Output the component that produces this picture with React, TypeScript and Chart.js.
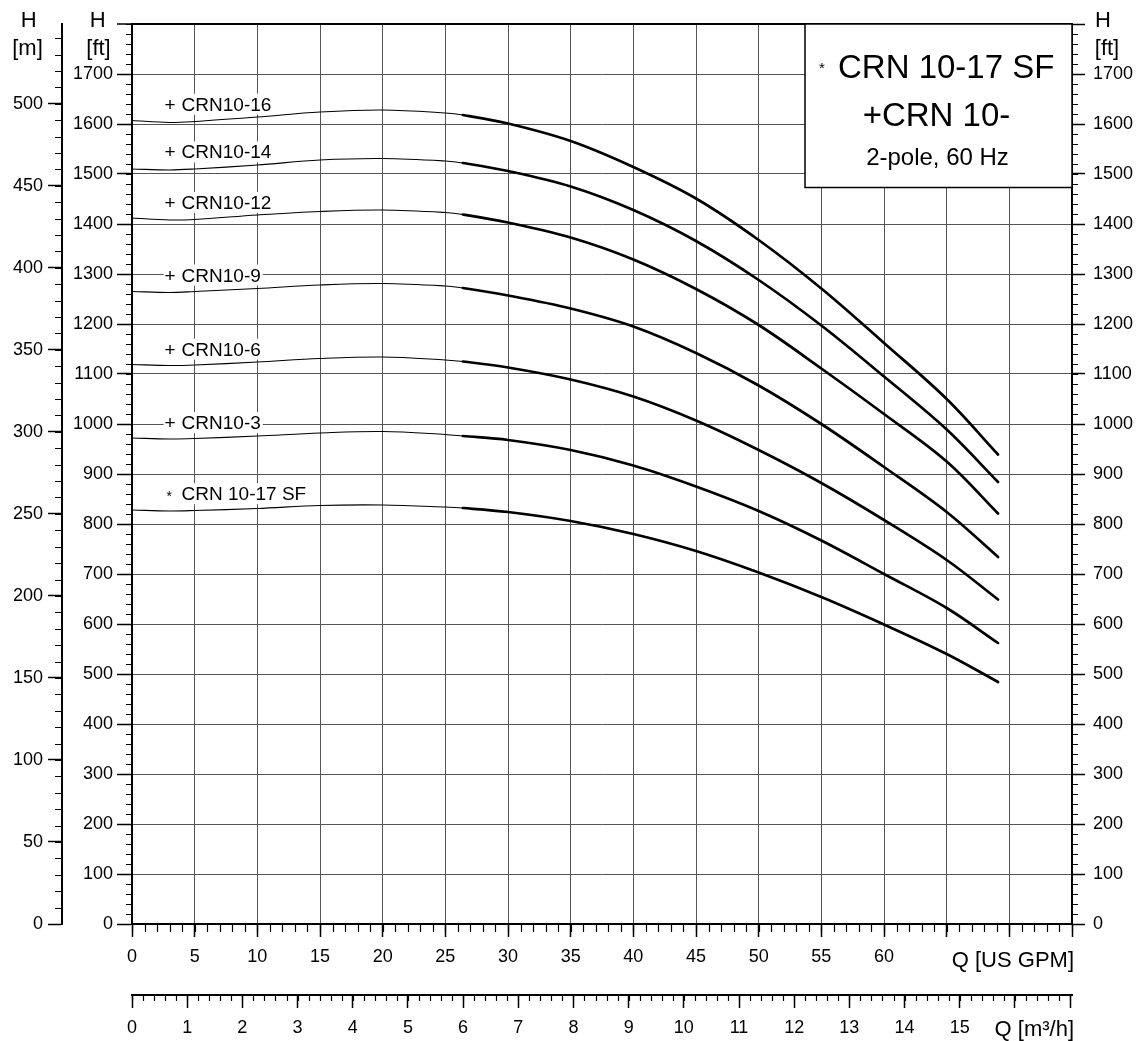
import { useEffect, useRef } from 'react';
import { Chart, registerables } from 'chart.js';

Chart.register(...registerables);

const FONT = "'Liberation Sans', Arial, Helvetica, sans-serif";
const FT_PER_M = 3.28084;
const GPM_PER_M3H = 4.402868;

// ---- data ----
const flowGpm = [0, 3, 5, 10, 15, 20, 25, 26.4, 30, 35, 40, 45, 50, 55, 60, 65, 69.1];
const headCrn10_16 = [1607, 1603, 1605, 1614, 1624, 1628, 1622, 1618, 1601, 1566, 1514, 1451, 1368, 1271, 1162, 1050, 939];
const headCrn10_14 = [1510, 1508, 1510, 1518, 1528, 1531, 1526, 1522, 1506, 1475, 1428, 1366, 1288, 1197, 1095, 989, 884];
const headCrn10_12 = [1412, 1408, 1409, 1418, 1425, 1428, 1423, 1419, 1403, 1373, 1329, 1270, 1198, 1111, 1020, 925, 821];
const headCrn10_9 = [1265, 1263, 1265, 1271, 1278, 1281, 1276, 1272, 1257, 1231, 1195, 1142, 1077, 1000, 914, 824, 734];
const headCrn10_6 = [1119, 1117, 1118, 1124, 1131, 1134, 1128, 1125, 1113, 1089, 1055, 1007, 948, 882, 808, 728, 649];
const headCrn10_3 = [972, 970, 971, 976, 982, 985, 979, 976, 968, 948, 917, 875, 826, 767, 700, 632, 562];
const headCrn10_17SF = [828, 826, 827, 831, 837, 838, 834, 832, 824, 806, 780, 746, 703, 654, 599, 540, 484];

const curveNames = ['CRN10-16', 'CRN10-14', 'CRN10-12', 'CRN10-9', 'CRN10-6', 'CRN10-3', 'CRN 10-17 SF'];
const curveMarkers = ['+', '+', '+', '+', '+', '+', '*'];
const curveHeads = [headCrn10_16, headCrn10_14, headCrn10_12, headCrn10_9, headCrn10_6, headCrn10_3, headCrn10_17SF];
const labelBaselineFt = [1626.6, 1531.2, 1430.3, 1285.0, 1136.8, 989.8, 847.6];
const labelFlowGpm = 2.6;
const thickFromGpm = 26.4;

const gpmTickLabels = [0, 5, 10, 15, 20, 25, 30, 35, 40, 45, 50, 55, 60];
const m3hTickLabels = [0, 1, 2, 3, 4, 5, 6, 7, 8, 9, 10, 11, 12, 13, 14, 15];
const ftTickLabels = [0, 100, 200, 300, 400, 500, 600, 700, 800, 900, 1000, 1100, 1200, 1300, 1400, 1500, 1600, 1700];
const mTickLabels = [0, 50, 100, 150, 200, 250, 300, 350, 400, 450, 500];

const legendLines = ['CRN 10-17 SF', '+CRN 10-', '2-pole, 60 Hz'];

const labelFrom = (list: number[]) => (v: any) => {
  const n = Number(v);
  const r = Math.round(n);
  return Math.abs(n - r) < 1e-3 && list.includes(r) ? String(r) : '';
};

const minorTicksPlugin = {
  id: 'minorTicks',
  afterDraw(chart: any) {
    const ctx = chart.ctx;
    const specs = [
      { id: 'x', step: 1, len: 8 },
      { id: 'x2', step: 0.2, len: 6 },
      { id: 'y', step: 20, len: 6 },
      { id: 'ym', step: 10, len: 7 },
      { id: 'yr', step: 20, len: 6 },
    ];
    ctx.save();
    ctx.strokeStyle = '#000';
    ctx.lineWidth = 1.2;
    for (const s of specs) {
      const sc = chart.scales[s.id];
      const n = Math.floor((sc.max - sc.min) / s.step + 1e-6);
      ctx.beginPath();
      for (let i = 0; i <= n; i++) {
        const v = sc.min + i * s.step;
        const p = Math.round(sc.getPixelForValue(v)) + 0.5;
        if (s.id === 'x' || s.id === 'x2') {
          ctx.moveTo(p, sc.top);
          ctx.lineTo(p, sc.top + s.len);
        } else if (s.id === 'yr') {
          ctx.moveTo(sc.left, p);
          ctx.lineTo(sc.left + s.len, p);
        } else {
          ctx.moveTo(sc.right, p);
          ctx.lineTo(sc.right - s.len, p);
        }
      }
      ctx.stroke();
    }
    ctx.restore();
  },
};

const textPlugin = {
  id: 'texts',
  afterDraw(chart: any) {
    const ctx = chart.ctx;
    const area = chart.chartArea;
    const sx = chart.scales.x;
    const sy = chart.scales.y;
    const ym = chart.scales.ym;
    const yr = chart.scales.yr;
    ctx.save();
    ctx.fillStyle = '#000';
    ctx.textBaseline = 'alphabetic';

    // axis unit titles
    ctx.font = `22px ${FONT}`;
    ctx.textAlign = 'center';
    ctx.fillText('H', ym.left + 28.7, 26.7);
    ctx.fillText('[m]', ym.left + 27.5, 55);
    ctx.fillText('H', sy.left + 35.7, 26.7);
    ctx.fillText('[ft]', sy.left + 36.5, 55);
    ctx.fillText('H', yr.left + 31, 26.7);
    ctx.fillText('[ft]', yr.left + 35, 55);
    ctx.textAlign = 'right';
    ctx.fillText('Q [US GPM]', area.right + 2, 967);
    ctx.fillText('Q [m³/h]', area.right + 2, 1036);

    // curve labels
    ctx.textAlign = 'left';
    for (let i = 0; i < curveNames.length; i++) {
      const x = sx.getPixelForValue(labelFlowGpm);
      const y = sy.getPixelForValue(labelBaselineFt[i]);
      ctx.font = `19px ${FONT}`;
      const nameW = ctx.measureText(curveNames[i]).width;
      ctx.fillStyle = '#fff';
      ctx.fillRect(x - 1, y - 17, 17 + nameW + 3, 21);
      ctx.fillStyle = '#000';
      if (curveMarkers[i] === '*') {
        ctx.font = `14px ${FONT}`;
        ctx.fillText('*', x + 2, y + 1);
      } else {
        ctx.fillText(curveMarkers[i], x, y);
      }
      ctx.font = `19px ${FONT}`;
      ctx.fillText(curveNames[i], x + 17, y);
    }

    // legend box
    const bx = area.right - 267;
    const by = area.top;
    const bw = 267;
    const bh = 163.5;
    ctx.fillStyle = '#fff';
    ctx.fillRect(bx, by, bw, bh);
    ctx.strokeStyle = '#000';
    ctx.lineWidth = 1.5;
    ctx.strokeRect(bx, by, bw, bh);
    ctx.fillStyle = '#000';
    ctx.font = `33px ${FONT}`;
    ctx.textAlign = 'left';
    ctx.fillText(legendLines[0], bx + 33, by + 54);
    ctx.font = `15px ${FONT}`;
    ctx.fillText('*', bx + 14, by + 49);
    ctx.textAlign = 'center';
    ctx.font = `33px ${FONT}`;
    ctx.fillText(legendLines[1], bx + bw / 2 - 2, by + 102);
    ctx.font = `24px ${FONT}`;
    ctx.fillText(legendLines[2], bx + bw / 2 - 1, by + 141);
    ctx.restore();
  },
};

export default function App() {
  const canvasRef = useRef<HTMLCanvasElement | null>(null);

  useEffect(() => {
    document.body.style.margin = '0';
    const canvas = canvasRef.current;
    if (!canvas) return;

    const tickFont = { family: FONT, size: 18 };
    const gridColor = (ctx: any) => {
      const v = ctx.tick ? ctx.tick.value : 0;
      return v === 0 || v === 75 || v === 1800 ? '#000' : '#555';
    };
    const gridWidth = (ctx: any) => {
      const v = ctx.tick ? ctx.tick.value : 0;
      return v === 1800 ? 2 : 1;
    };

    const datasets = curveHeads.map((heads, i) => ({
      label: curveNames[i],
      data: flowGpm.map((q, j) => ({ x: q, y: heads[j] })),
      borderColor: '#000',
      backgroundColor: '#000',
      pointRadius: 0,
      borderCapStyle: 'round' as const,
      borderJoinStyle: 'round' as const,
      tension: 0.35,
      xAxisID: 'x',
      yAxisID: 'y',
      segment: {
        borderWidth: (c: any) => (c.p0.parsed.x >= thickFromGpm - 1e-6 ? 2.7 : 1.1),
      },
    }));

    const chart = new Chart(canvas, {
      type: 'line',
      data: { datasets },
      options: {
        animation: false,
        responsive: false,
        devicePixelRatio: 1,
        events: [],
        layout: { padding: { top: 24, left: 0, right: 0, bottom: 0 }, autoPadding: false },
        plugins: { legend: { display: false }, tooltip: { enabled: false }, title: { display: false } },
        scales: {
          x: {
            type: 'linear',
            position: 'bottom',
            weight: 0,
            min: 0,
            max: 75,
            ticks: {
              stepSize: 5,
              autoSkip: false,
              maxRotation: 0,
              includeBounds: false,
              color: '#000',
              font: tickFont,
              padding: 9,
              callback: labelFrom(gpmTickLabels),
            },
            grid: { color: gridColor, lineWidth: 1, tickLength: 13, tickColor: '#000', tickWidth: 1.5 },
            border: { color: '#000', width: 2 },
            afterFit: (s: any) => { s.height = 71; },
          },
          x2: {
            type: 'linear',
            position: 'bottom',
            weight: 1,
            min: 0,
            max: 75 / GPM_PER_M3H,
            ticks: {
              stepSize: 1,
              autoSkip: false,
              maxRotation: 0,
              includeBounds: false,
              color: '#000',
              font: tickFont,
              padding: 9,
              callback: labelFrom(m3hTickLabels),
            },
            grid: { drawOnChartArea: false, tickLength: 13, tickColor: '#000', tickWidth: 1.5 },
            border: { color: '#000', width: 2 },
            afterFit: (s: any) => { s.height = 46; },
          },
          y: {
            type: 'linear',
            position: 'left',
            weight: 0,
            min: 0,
            max: 1800,
            ticks: {
              stepSize: 100,
              autoSkip: false,
              includeBounds: false,
              color: '#000',
              font: tickFont,
              padding: 4,
              callback: labelFrom(ftTickLabels),
            },
            grid: { color: gridColor, lineWidth: gridWidth, tickLength: 15, tickColor: '#000', tickWidth: 1.5 },
            border: { color: '#000', width: 2 },
            afterFit: (s: any) => { s.width = 70; },
          },
          ym: {
            type: 'linear',
            position: 'left',
            weight: 1,
            min: 0,
            max: 1800 / FT_PER_M,
            afterBuildTicks: (s: any) => {
              s.ticks = mTickLabels.map((v) => ({ value: v }));
            },
            ticks: {
              autoSkip: false,
              includeBounds: false,
              color: '#000',
              font: tickFont,
              padding: 5,
              callback: (v: any) => String(Math.round(Number(v))),
            },
            grid: { drawOnChartArea: false, tickLength: 14, tickColor: '#000', tickWidth: 1.5 },
            border: { color: '#000', width: 2 },
            afterFit: (s: any) => { s.width = 62; },
          },
          yr: {
            type: 'linear',
            position: 'right',
            weight: 0,
            min: 0,
            max: 1800,
            ticks: {
              stepSize: 100,
              autoSkip: false,
              includeBounds: false,
              color: '#000',
              font: tickFont,
              padding: 8,
              callback: labelFrom(ftTickLabels),
            },
            grid: { drawOnChartArea: false, tickLength: 13, tickColor: '#000', tickWidth: 1.5 },
            border: { color: '#000', width: 2 },
            afterFit: (s: any) => { s.width = 71; },
          },
        },
      } as any,
      plugins: [minorTicksPlugin, textPlugin],
    });

    return () => chart.destroy();
  }, []);

  return (
    <div style={{ width: 1143, height: 1041, overflow: 'hidden', background: '#fff' }}>
      <canvas ref={canvasRef} width={1143} height={1041} style={{ display: 'block', width: 1143, height: 1041 }} />
    </div>
  );
}
